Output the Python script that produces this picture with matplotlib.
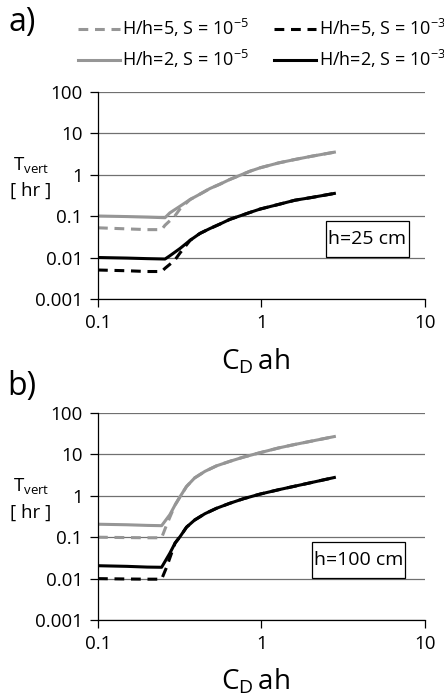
import numpy as np
import matplotlib
matplotlib.use("Agg")
import matplotlib.pyplot as plt
from matplotlib import ticker
from matplotlib.patches import Rectangle

plt.rcParams['font.family'] = ['Open Sans', 'DejaVu Sans']
plt.rcParams['mathtext.fontset'] = 'custom'
plt.rcParams['mathtext.rm'] = 'Open Sans'
plt.rcParams['mathtext.it'] = 'Open Sans:italic'
plt.rcParams['font.size'] = 13

# panel a) h = 25 cm
xa = [0.1, 0.15, 0.2, 0.257, 0.275, 0.318, 0.366, 0.42, 0.484, 0.557, 0.64, 0.74, 0.85, 0.98, 1.27, 1.6, 2.03, 2.79]
a_h2_s5 = [0.1, 0.097, 0.094, 0.091, 0.119, 0.173, 0.25, 0.336, 0.46, 0.585, 0.76, 0.96, 1.2, 1.45, 1.9, 2.3, 2.76, 3.45]
a_h2_s3 = [0.01, 0.0097, 0.0094, 0.0092, 0.011, 0.0166, 0.026, 0.038, 0.05, 0.064, 0.083, 0.101, 0.122, 0.147, 0.19, 0.24, 0.28, 0.35]
xa_d = [0.1, 0.15, 0.2, 0.245, 0.257, 0.294, 0.318, 0.366, 0.42, 0.484, 0.557, 0.64, 0.74, 0.85, 0.98, 1.27, 1.6, 2.03, 2.79]
a_h5_s5 = [0.052, 0.049, 0.047, 0.047, 0.06, 0.098, 0.15, 0.25, 0.336, 0.46, 0.585, 0.76, 0.96, 1.2, 1.45, 1.9, 2.3, 2.76, 3.45]
a_h5_s3 = [0.005, 0.0048, 0.0046, 0.0046, 0.0055, 0.0085, 0.013, 0.026, 0.038, 0.05, 0.064, 0.083, 0.101, 0.122, 0.147, 0.19, 0.24, 0.28, 0.35]

# panel b) h = 100 cm
xb = [0.1, 0.15, 0.2, 0.245, 0.275, 0.296, 0.318, 0.348, 0.39, 0.451, 0.531, 0.64, 0.775, 0.98, 1.27, 1.6, 2.03, 2.79]
b_h2_s5 = [0.206, 0.2, 0.193, 0.19, 0.35, 0.6, 0.96, 1.68, 2.7, 3.9, 5.3, 6.8, 8.6, 11.0, 14.3, 17.4, 21.0, 27.0]
b_h2_s3 = [0.0205, 0.0198, 0.019, 0.0188, 0.041, 0.072, 0.104, 0.175, 0.26, 0.37, 0.5, 0.66, 0.85, 1.1, 1.4, 1.71, 2.1, 2.77]
xb_d = [0.1, 0.15, 0.2, 0.245, 0.263, 0.296, 0.318, 0.348, 0.39, 0.451, 0.531, 0.64, 0.775, 0.98, 1.27, 1.6, 2.03, 2.79]
b_h5_s5 = [0.1, 0.098, 0.097, 0.097, 0.2, 0.6, 0.96, 1.68, 2.7, 3.9, 5.3, 6.8, 8.6, 11.0, 14.3, 17.4, 21.0, 27.0]
b_h5_s3 = [0.01, 0.0098, 0.0097, 0.0097, 0.019, 0.072, 0.104, 0.175, 0.26, 0.37, 0.5, 0.66, 0.85, 1.1, 1.4, 1.71, 2.1, 2.77]

labels = ['H/h=5, S = 10$^{-5}$', 'H/h=2, S = 10$^{-5}$',
          'H/h=5, S = 10$^{-3}$', 'H/h=2, S = 10$^{-3}$']
yticks = [0.001, 0.01, 0.1, 1, 10, 100]
xticks = [0.1, 1, 10]

grey = '#969696'
lw = 2.2
dash = (3.2, 2.2)

fig = plt.figure(figsize=(4.44, 6.98), dpi=100)
ax1 = fig.add_axes([0.2207, 0.5716, 0.7365, 0.2973])
ax2 = fig.add_axes([0.2207, 0.1117, 0.7365, 0.2966])

panels = [
    (ax1, xa, xa_d, a_h5_s5, a_h2_s5, a_h5_s3, a_h2_s3, 'h=25 cm', (0.697, 0.202, 0.254, 0.173)),
    (ax2, xb, xb_d, b_h5_s5, b_h2_s5, b_h5_s3, b_h2_s3, 'h=100 cm', (0.654, 0.203, 0.284, 0.174)),
]

for ax, x, xd, g_d, g_s, k_d, k_s, htxt, box in panels:
    l1, = ax.plot(xd, g_d, color=grey, lw=lw, ls=(0, dash))
    l2, = ax.plot(x, g_s, color=grey, lw=lw)
    l3, = ax.plot(xd, k_d, color='black', lw=lw, ls=(0, dash))
    l4, = ax.plot(x, k_s, color='black', lw=lw)
    ax.set_xscale('log')
    ax.set_yscale('log')
    ax.set_xlim(0.1, 10)
    ax.set_ylim(0.001, 100)
    ax.xaxis.set_major_locator(ticker.FixedLocator(xticks))
    ax.yaxis.set_major_locator(ticker.FixedLocator(yticks))
    ax.xaxis.set_minor_locator(ticker.NullLocator())
    ax.yaxis.set_minor_locator(ticker.NullLocator())
    fmt = ticker.FuncFormatter(lambda v, p: f'{v:g}')
    ax.xaxis.set_major_formatter(fmt)
    ax.yaxis.set_major_formatter(fmt)
    ax.tick_params(direction='out', length=5.5, width=0.9, pad=5.5, labelsize=13.5)
    ax.yaxis.grid(True, color='#707070', lw=0.9)
    ax.set_axisbelow(True)
    for s in ['top', 'right']:
        ax.spines[s].set_visible(False)
    for s in ['left', 'bottom']:
        ax.spines[s].set_linewidth(0.9)
    ax.set_xlabel(r'C$_{\mathrm{D}}\,$ah', fontsize=20)
    ax.xaxis.set_label_coords(0.48, -0.30)
    ax.xaxis.label.set_va('center')
    ax.set_ylabel('T$_{\\mathrm{vert}}$\n[ hr ]', rotation=0, fontsize=13.5,
                  ha='center', va='center', linespacing=1.5)
    ax.yaxis.set_label_coords(-0.205, 0.585)
    # label box
    bx, by, bw, bh = box
    ax.add_patch(Rectangle((bx, by), bw, bh, transform=ax.transAxes,
                           facecolor='white', edgecolor='black', lw=0.9, zorder=5))
    ax.text(bx + bw / 2, by + bh / 2, htxt, transform=ax.transAxes,
            ha='center', va='center', fontsize=14, zorder=6)

fig.text(8 / 444, 1 - 22 / 698, 'a)', fontsize=23, va='center', ha='left')
fig.text(7 / 444, 1 - 386 / 698, 'b)', fontsize=23, va='center', ha='left')

fig.legend([l1, l2, l3, l4], labels, ncol=2, loc='upper left',
           bbox_to_anchor=(78 / 444, 1 - 17 / 698), frameon=False,
           borderpad=0, borderaxespad=0, handlelength=2.3, handletextpad=0.15,
           columnspacing=1.4, labelspacing=0.5, fontsize=13)

fig.savefig('out.png', dpi=100)
